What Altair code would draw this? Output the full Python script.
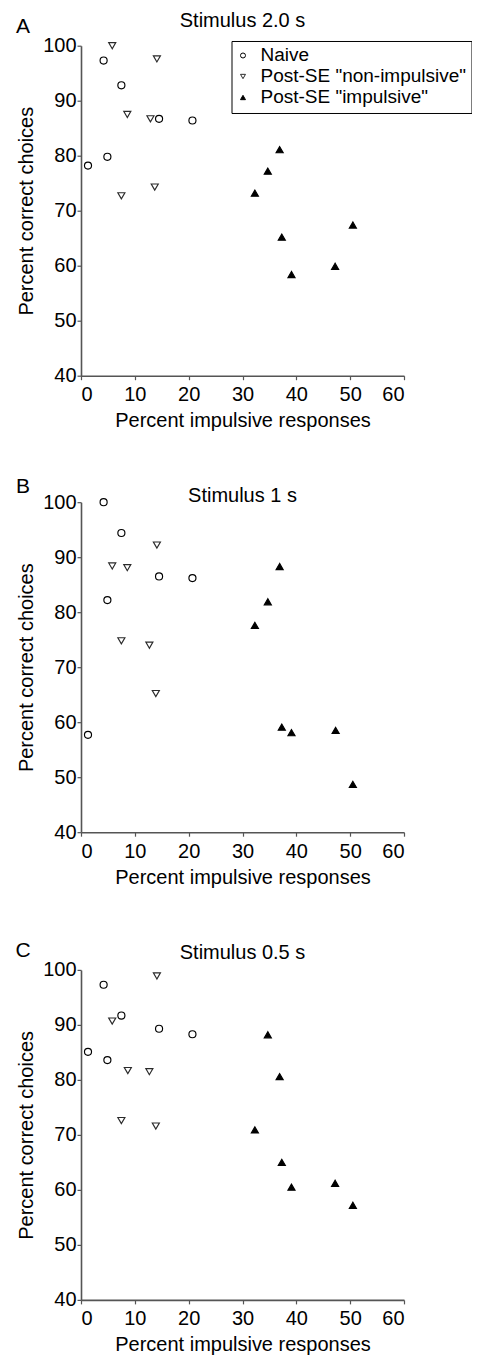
import altair as alt
import pandas as pd

FONT = "Liberation Sans"
GROUPS = ["Naive", 'Post-SE "non-impulsive"', 'Post-SE "impulsive"']
SHAPES = ["circle", "triangle-down", "triangle-up"]
FILLS = ["white", "white", "black"]
STROKES = ["black", "#2a2a2a", "black"]

# Panel A: Stimulus 2.0 s
a_naive_x = [1.3, 4.2, 4.9, 7.5, 14.5, 20.7]
a_naive_y = [78.2, 97.3, 79.8, 92.8, 86.7, 86.4]
a_non_x = [5.8, 14.1, 8.6, 12.9, 7.5, 13.7]
a_non_y = [100.0, 97.6, 87.5, 86.7, 72.7, 74.3]
a_imp_x = [36.9, 34.7, 32.3, 37.3, 50.5, 39.1, 47.2]
a_imp_y = [81.1, 77.2, 73.2, 65.2, 67.4, 58.4, 59.9]

# Panel B: Stimulus 1 s
b_naive_x = [4.2, 7.5, 4.9, 14.5, 20.7, 1.3]
b_naive_y = [100.0, 94.4, 82.2, 86.5, 86.2, 57.7]
b_non_x = [14.1, 5.8, 8.6, 7.5, 12.7, 13.9]
b_non_y = [92.2, 88.4, 88.1, 74.8, 74.0, 65.2]
b_imp_x = [36.9, 34.7, 32.3, 37.3, 39.1, 47.3, 50.5]
b_imp_y = [88.3, 81.9, 77.6, 59.1, 58.1, 58.5, 48.7]

# Panel C: Stimulus 0.5 s
c_naive_x = [4.2, 7.5, 14.5, 20.7, 1.3, 4.9]
c_naive_y = [97.3, 91.7, 89.3, 88.3, 85.1, 83.6]
c_non_x = [14.1, 5.8, 8.7, 12.7, 7.5, 13.9]
c_non_y = [98.9, 90.7, 81.7, 81.5, 72.6, 71.6]
c_imp_x = [34.7, 36.9, 32.3, 37.3, 39.1, 47.2, 50.5]
c_imp_y = [88.2, 80.6, 70.9, 65.0, 60.5, 61.2, 57.2]

x_ticks = [0, 10, 20, 30, 40, 50, 60]
y_ticks = [40, 50, 60, 70, 80, 90, 100]

W, H = 323, 330


def frame(nx, ny, px, py, ix, iy):
    rows = []
    for g, xs, ys in zip(GROUPS, [nx, px, ix], [ny, py, iy]):
        for xv, yv in zip(xs, ys):
            rows.append({"group": g, "x": xv, "y": yv})
    return pd.DataFrame(rows)


def panel(df, title, letter, title_y, letter_y, show_legend):
    if show_legend:
        leg = alt.Legend(
            orient="none", legendX=150.5, legendY=-4.7, title=None,
            strokeColor="black", fillColor="white", padding=5,
            labelFont=FONT, labelFontSize=19, labelColor="black",
            symbolSize=25, symbolOffset=-3, labelOffset=8, rowPadding=1,
            symbolStrokeWidth=1, labelLimit=400,
        )
    else:
        leg = None
    sc_shape = alt.Scale(domain=GROUPS, range=SHAPES)
    sc_fill = alt.Scale(domain=GROUPS, range=FILLS)
    sc_stroke = alt.Scale(domain=GROUPS, range=STROKES)
    pts = alt.Chart(df).mark_point(filled=True, size=50, strokeWidth=1.15, opacity=1).encode(
        x=alt.X("x:Q", scale=alt.Scale(domain=[0, 60], nice=False),
                axis=alt.Axis(values=x_ticks, title="Percent impulsive responses",
                              tickSize=4, labelPadding=5, titlePadding=6)),
        y=alt.Y("y:Q", scale=alt.Scale(domain=[40, 100], nice=False),
                axis=alt.Axis(values=y_ticks, title="Percent correct choices",
                              tickSize=4, labelPadding=1, titlePadding=6)),
        shape=alt.Shape("group:N", scale=sc_shape, legend=leg),
        fill=alt.Fill("group:N", scale=sc_fill, legend=leg),
        stroke=alt.Stroke("group:N", scale=sc_stroke, legend=leg),
    )
    ttl = alt.Chart(pd.DataFrame({"t": [title]})).mark_text(
        font=FONT, fontSize=20, align="center", baseline="alphabetic", color="black"
    ).encode(text="t:N", x=alt.value(W / 2), y=alt.value(title_y))
    lab = alt.Chart(pd.DataFrame({"t": [letter]})).mark_text(
        font=FONT, fontSize=21, align="center", baseline="middle", color="black"
    ).encode(text="t:N", x=alt.value(-58), y=alt.value(letter_y))
    return alt.layer(pts, ttl, lab).properties(width=W, height=H).resolve_scale(
        shape="independent", fill="independent", stroke="independent")


pa = panel(frame(a_naive_x, a_naive_y, a_non_x, a_non_y, a_imp_x, a_imp_y),
           "Stimulus 2.0 s", "A", -19, -19, True)
pb = panel(frame(b_naive_x, b_naive_y, b_non_x, b_non_y, b_imp_x, b_imp_y),
           "Stimulus 1 s", "B", -0.6, -15.6, False)
pc = panel(frame(c_naive_x, c_naive_y, c_non_x, c_non_y, c_imp_x, c_imp_y),
           "Stimulus 0.5 s", "C", -11, -18.7, False)

indep = dict(shape="independent", fill="independent", stroke="independent")
top = alt.vconcat(pa, pb, spacing=44.5).resolve_scale(**indep).resolve_legend(**indep)
chart = alt.vconcat(top, pc, spacing=52.2).resolve_scale(**indep).resolve_legend(**indep).properties(
    padding={"left": 15, "top": 10.7, "right": 0, "bottom": 0}
).configure_view(stroke=None).configure_axis(
    labelFont=FONT, titleFont=FONT, labelFontSize=20, titleFontSize=20,
    titleFontWeight="normal", labelColor="black", titleColor="black",
    domainColor="#555555", tickColor="#555555", domainWidth=1.6, tickWidth=1.2,
    grid=False,
)

chart.save("out.html", embed_options={"renderer": "svg", "actions": False})
